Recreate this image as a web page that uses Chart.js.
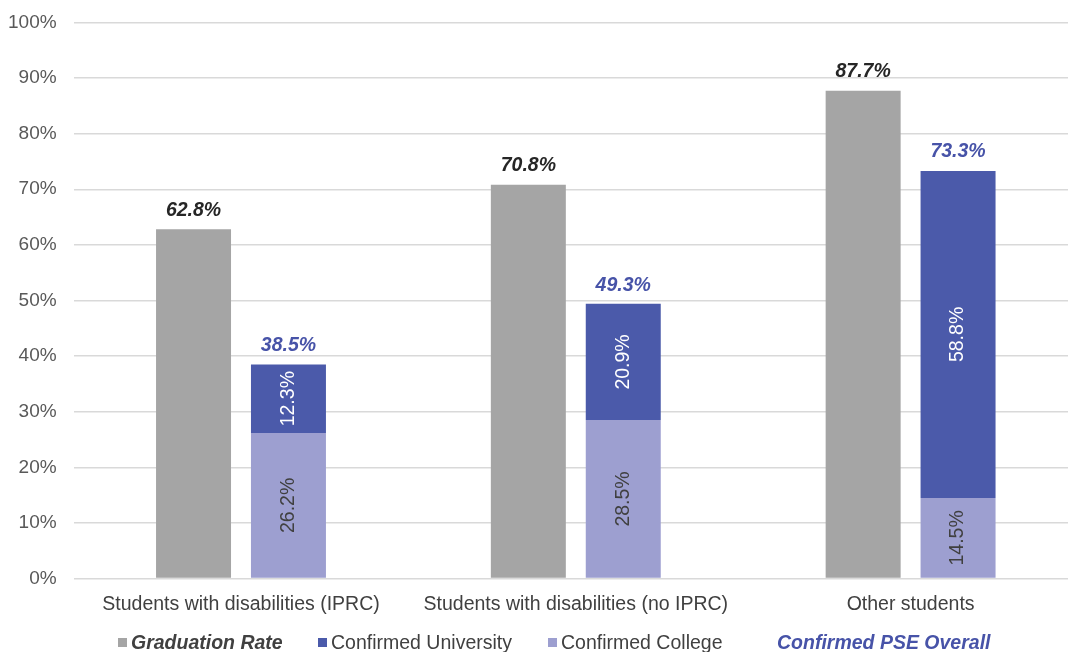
<!DOCTYPE html>
<html>
<head>
<meta charset="utf-8">
<script src="https://cdn.jsdelivr.net/npm/chart.js@4/dist/chart.umd.min.js"></script>
<style>
  html, body { margin: 0; padding: 0; background: #fff; overflow: hidden; width: 1068px; height: 652px; }
  #wrap { position: relative; width: 1068px; height: 652px; overflow: hidden; }
  canvas { position: absolute; left: -9px; top: -6px; }
  .legend { position: absolute; top: 631px; font-family: "Liberation Sans", Arial, sans-serif; font-size: 19.5px; line-height: 23px; color: #404040; white-space: nowrap; }
  .legend .sq { display: inline-block; width: 9px; height: 9px; margin-right: 4px; vertical-align: 2px; }
</style>
</head>
<body>
<div id="wrap">
  <canvas id="chart" width="1088" height="658"></canvas>
  <div class="legend" style="left:118px"><span class="sq" style="background:#a5a5a5"></span><b><i>Graduation Rate</i></b></div>
  <div class="legend" style="left:318px"><span class="sq" style="background:#4b5aaa"></span>Confirmed University</div>
  <div class="legend" style="left:548px"><span class="sq" style="background:#9d9fd0"></span>Confirmed College</div>
  <div class="legend" style="left:777px; color:#4753a8"><b><i>Confirmed PSE Overall</i></b></div>
</div>
<script>
const categories = [
  "Students with disabilities (IPRC)",
  "Students with disabilities (no IPRC)",
  "Other students"
];
const graduationRate = [62.8, 70.8, 87.7];
const confirmedCollege = [26.2, 28.5, 14.5];
const confirmedUniversity = [12.3, 20.9, 58.8];
const confirmedPseOverall = [38.5, 49.3, 73.3];
const yTicks = [0, 10, 20, 30, 40, 50, 60, 70, 80, 90, 100];

const fontFamily = '"Liberation Sans", Arial, sans-serif';

// draws the value labels on and above the bars
const barLabels = {
  id: "barLabels",
  afterDatasetsDraw(chart) {
    const ctx = chart.ctx;
    ctx.save();
    ctx.textAlign = "center";
    ctx.textBaseline = "middle";

    // graduation rate above gray bars
    chart.getDatasetMeta(0).data.forEach(function (bar, i) {
      ctx.font = "italic bold 19.5px " + fontFamily;
      ctx.fillStyle = "#262626";
      ctx.fillText(graduationRate[i].toFixed(1) + "%", bar.x, bar.y - 19);
    });

    // rotated labels inside stacked bars
    [1, 2].forEach(function (dsIndex) {
      const values = dsIndex === 1 ? confirmedCollege : confirmedUniversity;
      chart.getDatasetMeta(dsIndex).data.forEach(function (bar, i) {
        const cy = (bar.y + bar.base) / 2;
        ctx.save();
        ctx.translate(bar.x, cy);
        ctx.rotate(-Math.PI / 2);
        ctx.font = "19.5px " + fontFamily;
        ctx.fillStyle = dsIndex === 1 ? "#404040" : "#ffffff";
        ctx.fillText(values[i].toFixed(1) + "%", 0, 0);
        ctx.restore();
      });
    });

    // PSE overall above stacked bars
    const yScale = chart.scales.y;
    chart.getDatasetMeta(2).data.forEach(function (bar, i) {
      ctx.font = "italic bold 19.5px " + fontFamily;
      ctx.fillStyle = "#4753a8";
      ctx.fillText(confirmedPseOverall[i].toFixed(1) + "%", bar.x, yScale.getPixelForValue(confirmedPseOverall[i]) - 19);
    });
    ctx.restore();
  }
};

new Chart(document.getElementById("chart"), {
  type: "bar",
  data: {
    labels: categories,
    datasets: [
      {
        label: "Graduation Rate",
        data: graduationRate,
        backgroundColor: "#a5a5a5",
        stack: "grad"
      },
      {
        label: "Confirmed College",
        data: confirmedCollege,
        backgroundColor: "#9d9fd0",
        stack: "pse"
      },
      {
        label: "Confirmed University",
        data: confirmedUniversity,
        backgroundColor: "#4b5aaa",
        stack: "pse"
      }
    ]
  },
  options: {
    responsive: false,
    animation: false,
    categoryPercentage: 0.567,
    barPercentage: 0.79,
    layout: { padding: { top: 6, right: 1, bottom: 22, left: 0 } },
    plugins: {
      legend: { display: false },
      tooltip: { enabled: false }
    },
    scales: {
      x: {
        stacked: true,
        grid: { display: false, drawTicks: false },
        border: { display: false },
        ticks: { color: "#404040", font: { family: fontFamily, size: 19.5 }, padding: 14 }
      },
      y: {
        stacked: true,
        min: 0,
        max: 100,
        afterBuildTicks: function (axis) {
          axis.ticks = yTicks.map(function (v) { return { value: v }; });
        },
        grid: { color: "#d9d9d9", lineWidth: 1.5, drawTicks: false },
        border: { display: false },
        ticks: {
          color: "#595959",
          font: { family: fontFamily, size: 19 },
          padding: 17,
          callback: function (v) { return v + "%"; }
        }
      }
    }
  },
  plugins: [barLabels]
});
</script>
</body>
</html>
